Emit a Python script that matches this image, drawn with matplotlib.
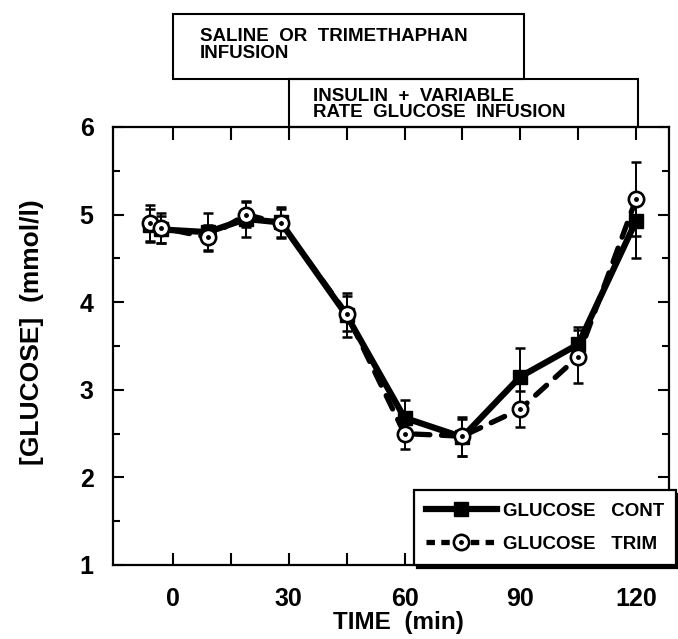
import matplotlib
matplotlib.use("Agg")
import matplotlib.pyplot as plt
import matplotlib.transforms as mtransforms
from matplotlib.patches import Rectangle
from matplotlib.lines import Line2D
from matplotlib.legend_handler import HandlerTuple

plt.rcParams['font.family'] = ['Liberation Sans', 'DejaVu Sans']
plt.rcParams['font.weight'] = 'bold'

# ---- data ----
times = [-6, -3, 9, 19, 28, 45, 60, 75, 90, 105, 120]
cont = [4.88, 4.83, 4.80, 4.95, 4.91, 3.85, 2.68, 2.46, 3.15, 3.52, 4.93]
cont_err_lo = [0.18, 0.15, 0.22, 0.21, 0.18, 0.25, 0.20, 0.21, 0.33, 0.20, 0.43]
cont_err_hi = [0.18, 0.15, 0.22, 0.21, 0.18, 0.25, 0.20, 0.21, 0.33, 0.20, 0.25]
trim = [4.90, 4.85, 4.74, 5.00, 4.90, 3.87, 2.50, 2.47, 2.78, 3.38, 5.18]
trim_err = [0.21, 0.17, 0.14, 0.14, 0.16, 0.20, 0.18, 0.22, 0.21, 0.30, 0.42]

xticks = [0, 30, 60, 90, 120]
xminor = [15, 45, 75, 105]
yticks = [1, 2, 3, 4, 5, 6]
yminor = [1.5, 2.5, 3.5, 4.5, 5.5]

box1_label = "SALINE  OR  TRIMETHAPHAN\nINFUSION"
box2_label = "INSULIN  +  VARIABLE\nRATE  GLUCOSE  INFUSION"
series_labels = ["GLUCOSE   CONT", "GLUCOSE   TRIM"]

fig = plt.figure(figsize=(6.78, 6.39), dpi=100)
ax = fig.add_axes([113/678, 1 - 565/639, (669-113)/678, (565-127)/639])

ax.set_xlim(-15.5, 128.5)
ax.set_ylim(1, 6)

# error bars
ax.errorbar(times, cont, yerr=[cont_err_lo, cont_err_hi], fmt='none', ecolor='black',
            elinewidth=1.4, capsize=3.8, capthick=1.8, zorder=2)
ax.errorbar(times, trim, yerr=trim_err, fmt='none', ecolor='black',
            elinewidth=1.4, capsize=3.8, capthick=1.8, zorder=2)

# lines
ax.plot(times, trim, color='black', lw=3.8, ls=(0, (2.8, 2.2)), zorder=3,
        dash_capstyle='round')
ax.plot(times, cont, color='black', lw=4.5, marker='s', markersize=9.5,
        markerfacecolor='black', markeredgecolor='black', zorder=4)
ax.plot(times, trim, ls='none', marker='o', markersize=11,
        markerfacecolor='white', markeredgecolor='black', markeredgewidth=1.9, zorder=5)
ax.plot(times, trim, ls='none', marker='o', markersize=2.5,
        markerfacecolor='black', markeredgecolor='black', zorder=6)

# ticks
ax.set_xticks(xticks)
ax.set_xticks(xminor, minor=True)
ax.set_yticks(yticks)
ax.set_yticks(yminor, minor=True)
ax.tick_params(axis='x', which='both', direction='in', top=True, bottom=True,
               length=9, width=1.5, labelsize=18, pad=16)
ax.tick_params(axis='y', which='major', direction='in', left=True, right=True,
               length=8, width=1.5, labelsize=18, pad=14)
ax.tick_params(axis='y', which='minor', direction='in', left=True, right=True,
               length=5, width=1.5)
for lab in ax.get_xticklabels() + ax.get_yticklabels():
    lab.set_fontweight('bold')
for sp in ax.spines.values():
    sp.set_linewidth(1.6)

fig.text(32/678, 1 - 332/639, "[GLUCOSE]  (mmol/l)", rotation=90,
         ha='center', va='center', fontsize=19, fontweight='bold')
fig.text(398/678, 1 - 623/639, "TIME  (min)", ha='center', va='center',
         fontsize=17.5, fontweight='bold')

# infusion boxes above the axes
trans = mtransforms.blended_transform_factory(ax.transData, ax.transAxes)
ax.add_patch(Rectangle((0, 1.1096), 91, 0.148, transform=trans, fill=False,
                       lw=1.5, ec='black', clip_on=False))
ax.add_patch(Rectangle((30, 1.0), 90.5, 0.1096, transform=trans, fill=False,
                       lw=1.5, ec='black', clip_on=False))
ax.text(7, 1.187, box1_label, transform=trans, ha='left', va='center',
        fontsize=13.5, fontweight='bold', linespacing=0.95)
ax.text(36.3, 1.0514, box2_label, transform=trans, ha='left', va='center',
        fontsize=13.5, fontweight='bold', linespacing=0.95)

# legend
h_cont = Line2D([], [], color='black', lw=4.5, marker='s', markersize=9.5)
h_trim_line = Line2D([], [], color='black', lw=3.8, ls=(0, (1.6, 1.2)),
                     marker='o', markersize=11, markerfacecolor='white',
                     markeredgecolor='black', markeredgewidth=1.9)
h_trim_dot = Line2D([], [], ls='none', marker='o', markersize=2.5, color='black')
leg = ax.legend([h_cont, (h_trim_line, h_trim_dot)], series_labels,
                handler_map={tuple: HandlerTuple(ndivide=1)},
                loc='lower right', bbox_to_anchor=(676/678, 1 - 565/639),
                bbox_transform=fig.transFigure, borderaxespad=0,
                fancybox=False, framealpha=1, edgecolor='black',
                prop={'size': 13.5, 'weight': 'bold'}, handlelength=3.8,
                handletextpad=0.3, labelspacing=0.85, borderpad=0.65,
                shadow={'color': 'black', 'alpha': 1, 'ox': 2.5, 'oy': -2.5})
leg.get_frame().set_linewidth(1.6)
leg.set_zorder(10)

fig.savefig("out.png", dpi=100)
